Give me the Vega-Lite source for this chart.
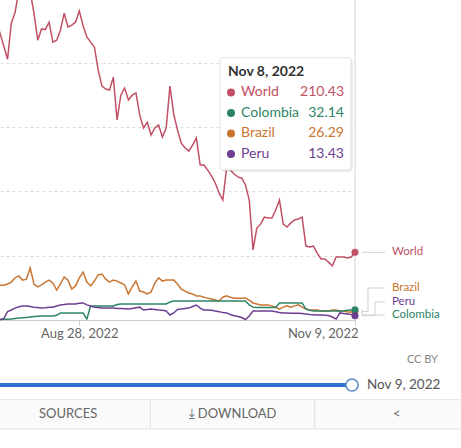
{
  "$schema": "https://vega.github.io/schema/vega-lite/v6.json",
  "width": 355,
  "height": 320,
  "autosize": {"type": "none"},
  "padding": {"left": 0, "top": 0, "right": 106, "bottom": 128},
  "background": "white",
  "config": {"font": "Lato", "view": {"stroke": null}},
  "datasets": {
    "series": [
      {"country":"World","date":"2022-08-06","value":930},{"country":"World","date":"2022-08-07","value":892},{"country":"World","date":"2022-08-08","value":852},{"country":"World","date":"2022-08-09","value":811},{"country":"World","date":"2022-08-10","value":923},{"country":"World","date":"2022-08-11","value":957},{"country":"World","date":"2022-08-12","value":1026},{"country":"World","date":"2022-08-13","value":1072},{"country":"World","date":"2022-08-14","value":1057},{"country":"World","date":"2022-08-15","value":1020},{"country":"World","date":"2022-08-16","value":954},{"country":"World","date":"2022-08-17","value":870},{"country":"World","date":"2022-08-18","value":905},{"country":"World","date":"2022-08-19","value":903},{"country":"World","date":"2022-08-20","value":926},{"country":"World","date":"2022-08-21","value":864},{"country":"World","date":"2022-08-22","value":870},{"country":"World","date":"2022-08-23","value":901},{"country":"World","date":"2022-08-24","value":954},{"country":"World","date":"2022-08-25","value":911},{"country":"World","date":"2022-08-26","value":917},{"country":"World","date":"2022-08-27","value":926},{"country":"World","date":"2022-08-28","value":961},{"country":"World","date":"2022-08-29","value":915},{"country":"World","date":"2022-08-30","value":880},{"country":"World","date":"2022-08-31","value":864},
      {"country":"World","date":"2022-09-01","value":849},{"country":"World","date":"2022-09-02","value":777},{"country":"World","date":"2022-09-03","value":727},{"country":"World","date":"2022-09-04","value":718},{"country":"World","date":"2022-09-05","value":715},{"country":"World","date":"2022-09-06","value":755},{"country":"World","date":"2022-09-07","value":622},{"country":"World","date":"2022-09-08","value":699},{"country":"World","date":"2022-09-09","value":721},{"country":"World","date":"2022-09-10","value":684},{"country":"World","date":"2022-09-11","value":699},{"country":"World","date":"2022-09-12","value":706},{"country":"World","date":"2022-09-13","value":637},{"country":"World","date":"2022-09-14","value":597},{"country":"World","date":"2022-09-15","value":615},{"country":"World","date":"2022-09-16","value":575},{"country":"World","date":"2022-09-17","value":597},{"country":"World","date":"2022-09-18","value":606},{"country":"World","date":"2022-09-19","value":569},{"country":"World","date":"2022-09-20","value":597},{"country":"World","date":"2022-09-21","value":727},{"country":"World","date":"2022-09-22","value":640},{"country":"World","date":"2022-09-23","value":591},{"country":"World","date":"2022-09-24","value":550},{"country":"World","date":"2022-09-25","value":535},{"country":"World","date":"2022-09-26","value":525},{"country":"World","date":"2022-09-27","value":544},{"country":"World","date":"2022-09-28","value":566},{"country":"World","date":"2022-09-29","value":482},{"country":"World","date":"2022-09-30","value":482},
      {"country":"World","date":"2022-10-01","value":466},{"country":"World","date":"2022-10-02","value":448},{"country":"World","date":"2022-10-03","value":426},{"country":"World","date":"2022-10-04","value":395},{"country":"World","date":"2022-10-05","value":373},{"country":"World","date":"2022-10-06","value":472},{"country":"World","date":"2022-10-07","value":466},{"country":"World","date":"2022-10-08","value":454},{"country":"World","date":"2022-10-09","value":445},{"country":"World","date":"2022-10-10","value":441},{"country":"World","date":"2022-10-11","value":420},{"country":"World","date":"2022-10-12","value":373},{"country":"World","date":"2022-10-13","value":218},{"country":"World","date":"2022-10-14","value":286},{"country":"World","date":"2022-10-15","value":298},{"country":"World","date":"2022-10-16","value":320},{"country":"World","date":"2022-10-17","value":317},{"country":"World","date":"2022-10-18","value":317},{"country":"World","date":"2022-10-19","value":342},{"country":"World","date":"2022-10-20","value":373},{"country":"World","date":"2022-10-21","value":298},{"country":"World","date":"2022-10-22","value":289},{"country":"World","date":"2022-10-23","value":302},{"country":"World","date":"2022-10-24","value":311},{"country":"World","date":"2022-10-25","value":314},{"country":"World","date":"2022-10-26","value":320},{"country":"World","date":"2022-10-27","value":230},{"country":"World","date":"2022-10-28","value":227},{"country":"World","date":"2022-10-29","value":230},{"country":"World","date":"2022-10-30","value":208},{"country":"World","date":"2022-10-31","value":190},
      {"country":"World","date":"2022-11-01","value":190},{"country":"World","date":"2022-11-02","value":180},{"country":"World","date":"2022-11-03","value":168},{"country":"World","date":"2022-11-04","value":196},{"country":"World","date":"2022-11-05","value":196},{"country":"World","date":"2022-11-06","value":196},{"country":"World","date":"2022-11-07","value":193},{"country":"World","date":"2022-11-08","value":196},{"country":"World","date":"2022-11-09","value":210.43},

      {"country":"Brazil","date":"2022-08-06","value":108},{"country":"Brazil","date":"2022-08-07","value":108},{"country":"Brazil","date":"2022-08-08","value":108},{"country":"Brazil","date":"2022-08-09","value":112},{"country":"Brazil","date":"2022-08-10","value":118},{"country":"Brazil","date":"2022-08-11","value":131},{"country":"Brazil","date":"2022-08-12","value":137},{"country":"Brazil","date":"2022-08-13","value":124},{"country":"Brazil","date":"2022-08-14","value":127},{"country":"Brazil","date":"2022-08-15","value":162},{"country":"Brazil","date":"2022-08-16","value":112},{"country":"Brazil","date":"2022-08-17","value":103},{"country":"Brazil","date":"2022-08-18","value":109},{"country":"Brazil","date":"2022-08-19","value":118},{"country":"Brazil","date":"2022-08-20","value":124},{"country":"Brazil","date":"2022-08-21","value":115},{"country":"Brazil","date":"2022-08-22","value":93},{"country":"Brazil","date":"2022-08-23","value":112},{"country":"Brazil","date":"2022-08-24","value":134},{"country":"Brazil","date":"2022-08-25","value":124},{"country":"Brazil","date":"2022-08-26","value":96},{"country":"Brazil","date":"2022-08-27","value":106},{"country":"Brazil","date":"2022-08-28","value":131},{"country":"Brazil","date":"2022-08-29","value":149},{"country":"Brazil","date":"2022-08-30","value":118},{"country":"Brazil","date":"2022-08-31","value":106},
      {"country":"Brazil","date":"2022-09-01","value":121},{"country":"Brazil","date":"2022-09-02","value":140},{"country":"Brazil","date":"2022-09-03","value":143},{"country":"Brazil","date":"2022-09-04","value":127},{"country":"Brazil","date":"2022-09-05","value":118},{"country":"Brazil","date":"2022-09-06","value":124},{"country":"Brazil","date":"2022-09-07","value":121},{"country":"Brazil","date":"2022-09-08","value":115},{"country":"Brazil","date":"2022-09-09","value":109},{"country":"Brazil","date":"2022-09-10","value":81},{"country":"Brazil","date":"2022-09-11","value":103},{"country":"Brazil","date":"2022-09-12","value":121},{"country":"Brazil","date":"2022-09-13","value":90},{"country":"Brazil","date":"2022-09-14","value":87},{"country":"Brazil","date":"2022-09-15","value":81},{"country":"Brazil","date":"2022-09-16","value":87},{"country":"Brazil","date":"2022-09-17","value":115},{"country":"Brazil","date":"2022-09-18","value":131},{"country":"Brazil","date":"2022-09-19","value":121},{"country":"Brazil","date":"2022-09-20","value":124},{"country":"Brazil","date":"2022-09-21","value":124},{"country":"Brazil","date":"2022-09-22","value":124},{"country":"Brazil","date":"2022-09-23","value":112},{"country":"Brazil","date":"2022-09-24","value":96},{"country":"Brazil","date":"2022-09-25","value":90},{"country":"Brazil","date":"2022-09-26","value":84},{"country":"Brazil","date":"2022-09-27","value":81},{"country":"Brazil","date":"2022-09-28","value":75},{"country":"Brazil","date":"2022-09-29","value":75},{"country":"Brazil","date":"2022-09-30","value":71},
      {"country":"Brazil","date":"2022-10-01","value":68},{"country":"Brazil","date":"2022-10-02","value":65},{"country":"Brazil","date":"2022-10-03","value":62},{"country":"Brazil","date":"2022-10-04","value":59},{"country":"Brazil","date":"2022-10-05","value":71},{"country":"Brazil","date":"2022-10-06","value":75},{"country":"Brazil","date":"2022-10-07","value":71},{"country":"Brazil","date":"2022-10-08","value":68},{"country":"Brazil","date":"2022-10-09","value":68},{"country":"Brazil","date":"2022-10-10","value":68},{"country":"Brazil","date":"2022-10-11","value":68},{"country":"Brazil","date":"2022-10-12","value":62},{"country":"Brazil","date":"2022-10-13","value":53},{"country":"Brazil","date":"2022-10-14","value":50},{"country":"Brazil","date":"2022-10-15","value":47},{"country":"Brazil","date":"2022-10-16","value":47},{"country":"Brazil","date":"2022-10-17","value":47},{"country":"Brazil","date":"2022-10-18","value":44},{"country":"Brazil","date":"2022-10-19","value":40},{"country":"Brazil","date":"2022-10-20","value":34},{"country":"Brazil","date":"2022-10-21","value":40},{"country":"Brazil","date":"2022-10-22","value":44},{"country":"Brazil","date":"2022-10-23","value":40},{"country":"Brazil","date":"2022-10-24","value":44},{"country":"Brazil","date":"2022-10-25","value":47},{"country":"Brazil","date":"2022-10-26","value":40},{"country":"Brazil","date":"2022-10-27","value":34},{"country":"Brazil","date":"2022-10-28","value":31},{"country":"Brazil","date":"2022-10-29","value":31},{"country":"Brazil","date":"2022-10-30","value":31},{"country":"Brazil","date":"2022-10-31","value":28},
      {"country":"Brazil","date":"2022-11-01","value":28},{"country":"Brazil","date":"2022-11-02","value":28},{"country":"Brazil","date":"2022-11-03","value":31},{"country":"Brazil","date":"2022-11-04","value":31},{"country":"Brazil","date":"2022-11-05","value":28},{"country":"Brazil","date":"2022-11-06","value":28},{"country":"Brazil","date":"2022-11-07","value":25},{"country":"Brazil","date":"2022-11-08","value":25},{"country":"Brazil","date":"2022-11-09","value":26.29},

      {"country":"Colombia","date":"2022-08-06","value":1.3},{"country":"Colombia","date":"2022-08-07","value":1.6},{"country":"Colombia","date":"2022-08-08","value":2.2},{"country":"Colombia","date":"2022-08-09","value":2.5},{"country":"Colombia","date":"2022-08-10","value":3.4},{"country":"Colombia","date":"2022-08-11","value":4.7},{"country":"Colombia","date":"2022-08-12","value":5.9},{"country":"Colombia","date":"2022-08-13","value":7.1},{"country":"Colombia","date":"2022-08-14","value":8.1},{"country":"Colombia","date":"2022-08-15","value":9.3},{"country":"Colombia","date":"2022-08-16","value":10.6},{"country":"Colombia","date":"2022-08-17","value":11.8},{"country":"Colombia","date":"2022-08-18","value":12.4},{"country":"Colombia","date":"2022-08-19","value":12.4},{"country":"Colombia","date":"2022-08-20","value":12.4},{"country":"Colombia","date":"2022-08-21","value":12.4},{"country":"Colombia","date":"2022-08-22","value":14.6},{"country":"Colombia","date":"2022-08-23","value":21.8},{"country":"Colombia","date":"2022-08-24","value":21.8},{"country":"Colombia","date":"2022-08-25","value":21.8},{"country":"Colombia","date":"2022-08-26","value":21.8},{"country":"Colombia","date":"2022-08-27","value":21.8},{"country":"Colombia","date":"2022-08-28","value":21.8},{"country":"Colombia","date":"2022-08-29","value":21.8},{"country":"Colombia","date":"2022-08-30","value":3},{"country":"Colombia","date":"2022-08-31","value":43.5},
      {"country":"Colombia","date":"2022-09-01","value":43.5},{"country":"Colombia","date":"2022-09-02","value":43.5},{"country":"Colombia","date":"2022-09-03","value":43.5},{"country":"Colombia","date":"2022-09-04","value":43.5},{"country":"Colombia","date":"2022-09-05","value":43.5},{"country":"Colombia","date":"2022-09-06","value":43.5},{"country":"Colombia","date":"2022-09-07","value":48},{"country":"Colombia","date":"2022-09-08","value":49.7},{"country":"Colombia","date":"2022-09-09","value":49.7},{"country":"Colombia","date":"2022-09-10","value":49.7},{"country":"Colombia","date":"2022-09-11","value":49.7},{"country":"Colombia","date":"2022-09-12","value":49.7},{"country":"Colombia","date":"2022-09-13","value":49.7},{"country":"Colombia","date":"2022-09-14","value":49.7},{"country":"Colombia","date":"2022-09-15","value":49.7},{"country":"Colombia","date":"2022-09-16","value":49.7},{"country":"Colombia","date":"2022-09-17","value":49.7},{"country":"Colombia","date":"2022-09-18","value":49.7},{"country":"Colombia","date":"2022-09-19","value":49.7},{"country":"Colombia","date":"2022-09-20","value":49.7},{"country":"Colombia","date":"2022-09-21","value":56},{"country":"Colombia","date":"2022-09-22","value":59},{"country":"Colombia","date":"2022-09-23","value":59},{"country":"Colombia","date":"2022-09-24","value":59},{"country":"Colombia","date":"2022-09-25","value":59},{"country":"Colombia","date":"2022-09-26","value":59},{"country":"Colombia","date":"2022-09-27","value":59},{"country":"Colombia","date":"2022-09-28","value":59},{"country":"Colombia","date":"2022-09-29","value":59},{"country":"Colombia","date":"2022-09-30","value":59},
      {"country":"Colombia","date":"2022-10-01","value":59},{"country":"Colombia","date":"2022-10-02","value":59},{"country":"Colombia","date":"2022-10-03","value":59},{"country":"Colombia","date":"2022-10-04","value":59},{"country":"Colombia","date":"2022-10-05","value":59},{"country":"Colombia","date":"2022-10-06","value":59},{"country":"Colombia","date":"2022-10-07","value":59},{"country":"Colombia","date":"2022-10-08","value":59},{"country":"Colombia","date":"2022-10-09","value":59},{"country":"Colombia","date":"2022-10-10","value":59},{"country":"Colombia","date":"2022-10-11","value":59},{"country":"Colombia","date":"2022-10-12","value":47},{"country":"Colombia","date":"2022-10-13","value":40},{"country":"Colombia","date":"2022-10-14","value":39},{"country":"Colombia","date":"2022-10-15","value":39},{"country":"Colombia","date":"2022-10-16","value":39},{"country":"Colombia","date":"2022-10-17","value":39},{"country":"Colombia","date":"2022-10-18","value":39},{"country":"Colombia","date":"2022-10-19","value":39},{"country":"Colombia","date":"2022-10-20","value":53},{"country":"Colombia","date":"2022-10-21","value":53},{"country":"Colombia","date":"2022-10-22","value":53},{"country":"Colombia","date":"2022-10-23","value":53},{"country":"Colombia","date":"2022-10-24","value":53},{"country":"Colombia","date":"2022-10-25","value":53},{"country":"Colombia","date":"2022-10-26","value":53},{"country":"Colombia","date":"2022-10-27","value":34},{"country":"Colombia","date":"2022-10-28","value":30},{"country":"Colombia","date":"2022-10-29","value":28},{"country":"Colombia","date":"2022-10-30","value":28},{"country":"Colombia","date":"2022-10-31","value":28},
      {"country":"Colombia","date":"2022-11-01","value":28},{"country":"Colombia","date":"2022-11-02","value":28},{"country":"Colombia","date":"2022-11-03","value":28},{"country":"Colombia","date":"2022-11-04","value":28},{"country":"Colombia","date":"2022-11-05","value":28},{"country":"Colombia","date":"2022-11-06","value":28},{"country":"Colombia","date":"2022-11-07","value":30},{"country":"Colombia","date":"2022-11-08","value":31},{"country":"Colombia","date":"2022-11-09","value":32.14},

      {"country":"Peru","date":"2022-08-06","value":0.5},{"country":"Peru","date":"2022-08-07","value":0.5},{"country":"Peru","date":"2022-08-08","value":4.7},{"country":"Peru","date":"2022-08-09","value":26},{"country":"Peru","date":"2022-08-10","value":31},{"country":"Peru","date":"2022-08-11","value":37},{"country":"Peru","date":"2022-08-12","value":41},{"country":"Peru","date":"2022-08-13","value":43.5},{"country":"Peru","date":"2022-08-14","value":43.5},{"country":"Peru","date":"2022-08-15","value":42},{"country":"Peru","date":"2022-08-16","value":40},{"country":"Peru","date":"2022-08-17","value":39},{"country":"Peru","date":"2022-08-18","value":37},{"country":"Peru","date":"2022-08-19","value":38},{"country":"Peru","date":"2022-08-20","value":39.5},{"country":"Peru","date":"2022-08-21","value":40},{"country":"Peru","date":"2022-08-22","value":43.5},{"country":"Peru","date":"2022-08-23","value":46.6},{"country":"Peru","date":"2022-08-24","value":48},{"country":"Peru","date":"2022-08-25","value":50},{"country":"Peru","date":"2022-08-26","value":50},{"country":"Peru","date":"2022-08-27","value":50},{"country":"Peru","date":"2022-08-28","value":52},{"country":"Peru","date":"2022-08-29","value":53},{"country":"Peru","date":"2022-08-30","value":47},{"country":"Peru","date":"2022-08-31","value":43.5},
      {"country":"Peru","date":"2022-09-01","value":40},{"country":"Peru","date":"2022-09-02","value":39},{"country":"Peru","date":"2022-09-03","value":37},{"country":"Peru","date":"2022-09-04","value":37},{"country":"Peru","date":"2022-09-05","value":37},{"country":"Peru","date":"2022-09-06","value":37},{"country":"Peru","date":"2022-09-07","value":36},{"country":"Peru","date":"2022-09-08","value":36},{"country":"Peru","date":"2022-09-09","value":35},{"country":"Peru","date":"2022-09-10","value":34},{"country":"Peru","date":"2022-09-11","value":36},{"country":"Peru","date":"2022-09-12","value":38},{"country":"Peru","date":"2022-09-13","value":40},{"country":"Peru","date":"2022-09-14","value":31},{"country":"Peru","date":"2022-09-15","value":33},{"country":"Peru","date":"2022-09-16","value":34},{"country":"Peru","date":"2022-09-17","value":33},{"country":"Peru","date":"2022-09-18","value":31},{"country":"Peru","date":"2022-09-19","value":30},{"country":"Peru","date":"2022-09-20","value":28},{"country":"Peru","date":"2022-09-21","value":15.5},{"country":"Peru","date":"2022-09-22","value":22},{"country":"Peru","date":"2022-09-23","value":33},{"country":"Peru","date":"2022-09-24","value":34},{"country":"Peru","date":"2022-09-25","value":36},{"country":"Peru","date":"2022-09-26","value":37},{"country":"Peru","date":"2022-09-27","value":42},{"country":"Peru","date":"2022-09-28","value":46.6},{"country":"Peru","date":"2022-09-29","value":37},{"country":"Peru","date":"2022-09-30","value":31},
      {"country":"Peru","date":"2022-10-01","value":31},{"country":"Peru","date":"2022-10-02","value":30},{"country":"Peru","date":"2022-10-03","value":28},{"country":"Peru","date":"2022-10-04","value":26},{"country":"Peru","date":"2022-10-05","value":23},{"country":"Peru","date":"2022-10-06","value":22},{"country":"Peru","date":"2022-10-07","value":17},{"country":"Peru","date":"2022-10-08","value":13},{"country":"Peru","date":"2022-10-09","value":10.6},{"country":"Peru","date":"2022-10-10","value":7.8},{"country":"Peru","date":"2022-10-11","value":1.6},{"country":"Peru","date":"2022-10-12","value":12.4},{"country":"Peru","date":"2022-10-13","value":28},{"country":"Peru","date":"2022-10-14","value":28},{"country":"Peru","date":"2022-10-15","value":28},{"country":"Peru","date":"2022-10-16","value":28},{"country":"Peru","date":"2022-10-17","value":28},{"country":"Peru","date":"2022-10-18","value":28},{"country":"Peru","date":"2022-10-19","value":25.5},{"country":"Peru","date":"2022-10-20","value":23},{"country":"Peru","date":"2022-10-21","value":22},{"country":"Peru","date":"2022-10-22","value":22},{"country":"Peru","date":"2022-10-23","value":21},{"country":"Peru","date":"2022-10-24","value":21},{"country":"Peru","date":"2022-10-25","value":21},{"country":"Peru","date":"2022-10-26","value":20},{"country":"Peru","date":"2022-10-27","value":18.7},{"country":"Peru","date":"2022-10-28","value":17},{"country":"Peru","date":"2022-10-29","value":16.5},{"country":"Peru","date":"2022-10-30","value":15.5},{"country":"Peru","date":"2022-10-31","value":15.5},
      {"country":"Peru","date":"2022-11-01","value":15},{"country":"Peru","date":"2022-11-02","value":14},{"country":"Peru","date":"2022-11-03","value":9.3},{"country":"Peru","date":"2022-11-04","value":3},{"country":"Peru","date":"2022-11-05","value":22},{"country":"Peru","date":"2022-11-06","value":20},{"country":"Peru","date":"2022-11-07","value":18.7},{"country":"Peru","date":"2022-11-08","value":17},{"country":"Peru","date":"2022-11-09","value":13.43}
    ],
    "toolbar": [
      {"button": "SOURCES", "label": "SOURCES"},
      {"button": "DOWNLOAD", "label": "⤓ DOWNLOAD"},
      {"button": "share", "label": "<"}
    ]
  },
  "data": {"name": "series"},
  "layer": [
    {
      "encoding": {
        "x": {"field": "date", "type": "temporal", "scale": {"type": "utc", "domain": [{"year": 2022, "month": 8, "date": 7, "utc": true}, {"year": 2022, "month": 11, "date": 9, "utc": true}], "nice": false},
          "axis": {"title": null, "values": [{"year": 2022, "month": 8, "date": 28, "utc": true}, {"year": 2022, "month": 11, "date": 9, "utc": true}], "format": "%b %-d, %Y", "labelFlush": true, "labelFlushOffset": 3, "grid": false, "domainColor": "#cccccc", "tickColor": "#cccccc", "tickSize": 5, "labelPadding": 2, "labelFontSize": 13, "labelColor": "#666666"}}
      },
      "layer": [
        {
          "layer": [
            {
              "transform": [{"filter": {"field": "date", "equal": {"year": 2022, "month": 11, "date": 9, "utc": true}}}, {"filter": "datum.country === 'World'"}],
              "mark": {"type": "rule", "color": "#e2e2e2", "strokeWidth": 1.5}
            },
            {
              "mark": {"type": "line", "strokeWidth": 1.5},
              "encoding": {
                "y": {"field": "value", "type": "quantitative", "scale": {"domain": [0, 995], "nice": false, "zero": false},
                  "axis": {"title": null, "labels": false, "ticks": false, "domain": false, "grid": true, "gridColor": "#dddddd", "gridDash": [3, 3], "values": [200, 400, 600, 800]}},
                "color": {"field": "country", "type": "nominal", "scale": {"domain": ["World", "Colombia", "Brazil", "Peru"], "range": ["#c15065", "#2c8465", "#c97530", "#6d3e91"]}, "legend": null}
              }
            },
            {
              "transform": [{"filter": {"field": "date", "equal": {"year": 2022, "month": 11, "date": 9, "utc": true}}}],
              "mark": {"type": "circle", "size": 50, "opacity": 1},
              "encoding": {
                "y": {"field": "value", "type": "quantitative"},
                "color": {"field": "country", "type": "nominal"}
              }
            },
            {
              "transform": [{"filter": {"field": "date", "equal": {"year": 2022, "month": 11, "date": 9, "utc": true}}}, {"filter": "datum.country === 'World'"}],
              "mark": {"type": "rule", "color": "#d0d0d0", "strokeWidth": 1, "xOffset": 7, "x2Offset": 30},
              "encoding": {"x2": {"field": "date"}, "y": {"field": "value", "type": "quantitative"}}
            },
            {
              "transform": [{"filter": {"field": "date", "equal": {"year": 2022, "month": 11, "date": 9, "utc": true}}}, {"filter": "datum.country === 'Brazil'"}],
              "layer": [
                {"mark": {"type": "rule", "color": "#d0d0d0", "strokeWidth": 1, "xOffset": 7, "x2Offset": 13}, "encoding": {"x2": {"field": "date"}, "y": {"field": "value", "type": "quantitative"}}},
                {"mark": {"type": "rule", "color": "#d0d0d0", "strokeWidth": 1, "xOffset": 13, "y2Offset": -23.5}, "encoding": {"y": {"field": "value", "type": "quantitative"}, "y2": {"field": "value"}}},
                {"mark": {"type": "rule", "color": "#d0d0d0", "strokeWidth": 1, "xOffset": 13, "x2Offset": 30, "yOffset": -23.5}, "encoding": {"x2": {"field": "date"}, "y": {"field": "value", "type": "quantitative"}}},
                {"mark": {"type": "text", "align": "left", "baseline": "middle", "dx": 37, "dy": -23.5, "fontSize": 11.5}, "encoding": {"y": {"field": "value", "type": "quantitative"}, "text": {"field": "country"}, "color": {"field": "country", "type": "nominal"}}}
              ]
            },
            {
              "transform": [{"filter": {"field": "date", "equal": {"year": 2022, "month": 11, "date": 9, "utc": true}}}, {"filter": "datum.country === 'Peru'"}],
              "layer": [
                {"mark": {"type": "rule", "color": "#d0d0d0", "strokeWidth": 1, "xOffset": 7, "x2Offset": 20}, "encoding": {"x2": {"field": "date"}, "y": {"field": "value", "type": "quantitative"}}},
                {"mark": {"type": "rule", "color": "#d0d0d0", "strokeWidth": 1, "xOffset": 20, "y2Offset": -13.7}, "encoding": {"y": {"field": "value", "type": "quantitative"}, "y2": {"field": "value"}}},
                {"mark": {"type": "rule", "color": "#d0d0d0", "strokeWidth": 1, "xOffset": 20, "x2Offset": 30, "yOffset": -13.7}, "encoding": {"x2": {"field": "date"}, "y": {"field": "value", "type": "quantitative"}}},
                {"mark": {"type": "text", "align": "left", "baseline": "middle", "dx": 37, "dy": -13.7, "fontSize": 11.5}, "encoding": {"y": {"field": "value", "type": "quantitative"}, "text": {"field": "country"}, "color": {"field": "country", "type": "nominal"}}}
              ]
            },
            {
              "transform": [{"filter": {"field": "date", "equal": {"year": 2022, "month": 11, "date": 9, "utc": true}}}, {"filter": "datum.country === 'Colombia'"}],
              "layer": [
                {"mark": {"type": "rule", "color": "#d0d0d0", "strokeWidth": 1, "xOffset": 7, "y2Offset": 5.3}, "encoding": {"y": {"field": "value", "type": "quantitative"}, "y2": {"field": "value"}}},
                {"mark": {"type": "rule", "color": "#d0d0d0", "strokeWidth": 1, "xOffset": 7, "x2Offset": 30, "yOffset": 5.3}, "encoding": {"x2": {"field": "date"}, "y": {"field": "value", "type": "quantitative"}}},
                {"mark": {"type": "text", "align": "left", "baseline": "middle", "dx": 37, "dy": 5.3, "fontSize": 11.5}, "encoding": {"y": {"field": "value", "type": "quantitative"}, "text": {"field": "country"}, "color": {"field": "country", "type": "nominal"}}}
              ]
            },
            {
              "transform": [{"filter": {"field": "date", "equal": {"year": 2022, "month": 11, "date": 9, "utc": true}}}, {"filter": "datum.country === 'World'"}],
              "mark": {"type": "text", "align": "left", "baseline": "middle", "dx": 37, "fontSize": 11.5},
              "encoding": {"y": {"field": "value", "type": "quantitative"}, "text": {"field": "country"}, "color": {"field": "country", "type": "nominal"}}
            }
          ]
        },
        {
          "transform": [
            {"filter": {"field": "date", "equal": {"year": 2022, "month": 11, "date": 9, "utc": true}}},
            {"window": [{"op": "row_number", "as": "rank"}], "sort": [{"field": "value", "order": "descending"}]}
          ],
          "layer": [
            {
              "transform": [{"filter": "datum.country === 'World'"}],
              "mark": {"type": "rect", "fill": "#000000", "opacity": 0.07, "cornerRadius": 4, "xOffset": -134, "x2Offset": -2, "yOffset": 1, "y2Offset": 2},
              "encoding": {
                "x2": {"field": "date"},
                "y": {"datum": -0.7, "type": "quantitative", "scale": {"domain": [-3.512, 12.098], "reverse": true, "nice": false, "zero": false}, "axis": null},
                "y2": {"datum": 4.78}
              }
            },
            {
              "transform": [{"filter": "datum.country === 'World'"}],
              "mark": {"type": "rect", "fill": "#ffffff", "stroke": "#e2e2e2", "strokeWidth": 1, "cornerRadius": 3, "xOffset": -135, "x2Offset": -4},
              "encoding": {
                "x2": {"field": "date"},
                "y": {"datum": -0.7, "type": "quantitative", "scale": {"domain": [-3.512, 12.098], "reverse": true, "nice": false, "zero": false}, "axis": null},
                "y2": {"datum": 4.78}
              }
            },
            {
              "transform": [{"filter": "datum.country === 'World'"}],
              "mark": {"type": "text", "text": "Nov 8, 2022", "align": "left", "baseline": "middle", "dx": -127, "fontSize": 14, "fontWeight": "bold", "color": "#333333"},
              "encoding": {
                "y": {"datum": 0, "type": "quantitative", "scale": {"domain": [-3.512, 12.098], "reverse": true, "nice": false, "zero": false}, "axis": null}
              }
            },
            {
              "mark": {"type": "circle", "size": 64, "opacity": 1, "xOffset": -124},
              "encoding": {
                "y": {"field": "rank", "type": "quantitative", "scale": {"domain": [-3.512, 12.098], "reverse": true, "nice": false, "zero": false}, "axis": null},
                "color": {"field": "country", "type": "nominal"}
              }
            },
            {
              "mark": {"type": "text", "align": "left", "baseline": "middle", "dx": -114, "fontSize": 14},
              "encoding": {
                "y": {"field": "rank", "type": "quantitative", "scale": {"domain": [-3.512, 12.098], "reverse": true, "nice": false, "zero": false}, "axis": null},
                "text": {"field": "country"},
                "color": {"field": "country", "type": "nominal"}
              }
            },
            {
              "mark": {"type": "text", "align": "right", "baseline": "middle", "dx": -11, "fontSize": 14},
              "encoding": {
                "y": {"field": "rank", "type": "quantitative", "scale": {"domain": [-3.512, 12.098], "reverse": true, "nice": false, "zero": false}, "axis": null},
                "text": {"field": "value", "type": "quantitative", "format": ".2f"},
                "color": {"field": "country", "type": "nominal"}
              }
            }
          ]
        },
        {
          "layer": [
            {
              "mark": {"type": "rule", "color": "#2f6fcf", "strokeWidth": 4, "x2Offset": -6},
              "encoding": {
                "x": {"aggregate": "min", "field": "date", "type": "temporal"},
                "x2": {"aggregate": "max", "field": "date"},
                "y": {"datum": "slider", "type": "nominal", "scale": {"type": "band", "domain": ["license", "slider", "toolbar"], "range": [341, 429], "paddingInner": 0, "paddingOuter": 0}, "axis": null}
              }
            },
            {
              "transform": [{"filter": {"field": "date", "equal": {"year": 2022, "month": 11, "date": 9, "utc": true}}}, {"filter": "datum.country === 'World'"}],
              "mark": {"type": "point", "shape": "circle", "filled": true, "fill": "#ffffff", "stroke": "#5b87c6", "strokeWidth": 1.5, "size": 150, "opacity": 1, "xOffset": -3},
              "encoding": {
                "y": {"datum": "slider", "type": "nominal", "scale": {"type": "band", "domain": ["license", "slider", "toolbar"], "range": [341, 429], "paddingInner": 0, "paddingOuter": 0}, "axis": null}
              }
            },
            {
              "transform": [{"filter": {"field": "date", "equal": {"year": 2022, "month": 11, "date": 9, "utc": true}}}, {"filter": "datum.country === 'World'"}],
              "mark": {"type": "text", "align": "left", "baseline": "middle", "dx": 12, "fontSize": 13.5, "color": "#555555"},
              "encoding": {
                "y": {"datum": "slider", "type": "nominal", "scale": {"type": "band", "domain": ["license", "slider", "toolbar"], "range": [341, 429], "paddingInner": 0, "paddingOuter": 0}, "axis": null},
                "text": {"field": "date", "type": "temporal", "timeUnit": "utcyearmonthdate", "format": "%b %-d, %Y"}
              }
            },
            {
              "transform": [{"filter": {"field": "date", "equal": {"year": 2022, "month": 11, "date": 9, "utc": true}}}, {"filter": "datum.country === 'World'"}],
              "mark": {"type": "text", "text": "CC BY", "align": "right", "baseline": "middle", "dx": 83, "dy": 4, "fontSize": 11, "color": "#888888"},
              "encoding": {
                "y": {"datum": "license", "type": "nominal", "scale": {"type": "band", "domain": ["license", "slider", "toolbar"], "range": [341, 429], "paddingInner": 0, "paddingOuter": 0}, "axis": null}
              }
            }
          ]
        }
      ],
      "resolve": {"scale": {"y": "independent"}}
    },
    {
      "data": {"name": "toolbar"},
      "encoding": {
        "x": {"field": "button", "type": "nominal", "scale": {"type": "band", "domain": ["SOURCES", "DOWNLOAD", "share"], "range": [-14, 479], "paddingInner": 0, "paddingOuter": 0}, "axis": null},
        "y": {"datum": "toolbar", "type": "nominal", "scale": {"type": "band", "domain": ["license", "slider", "toolbar"], "range": [341, 429], "paddingInner": 0, "paddingOuter": 0}, "axis": null}
      },
      "layer": [
        {"mark": {"type": "rect", "fill": "#fafafa", "stroke": "#e3e3e3", "strokeWidth": 1}},
        {"mark": {"type": "text", "baseline": "middle", "fontSize": 13, "color": "#666666"}, "encoding": {"text": {"field": "label"}}}
      ]
    }
  ],
  "resolve": {"scale": {"x": "independent", "y": "independent"}}
}
